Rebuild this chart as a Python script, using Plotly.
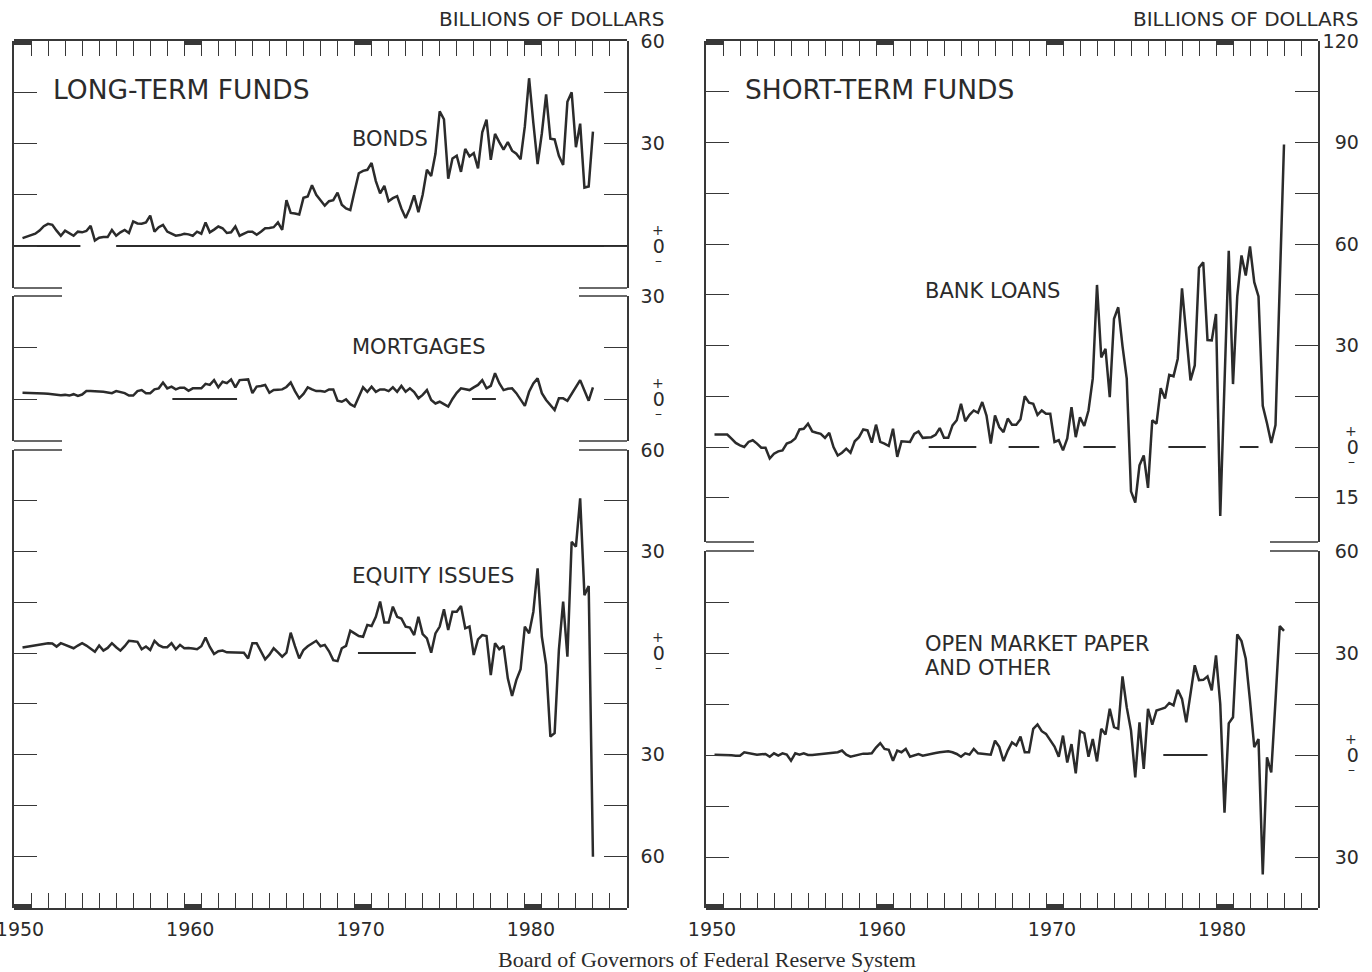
import plotly.graph_objects as go

# ---------------------------------------------------------------
# Funds raised by nonfinancial corporations, quarterly, 1950 Q3 - 1984 Q1
# (billions of dollars, seasonally adjusted annual rates)
# ---------------------------------------------------------------
START_YEAR = 1950.5
STEP = 0.25

bonds = [
    2.3, 2.8,
    3.2, 3.6, 4.5, 5.8,
    6.5, 6.2, 4.5, 3.0,
    4.5, 3.8, 3.0, 4.2,
    4.0, 4.4, 5.9, 1.6,
    2.4, 2.6, 2.6, 4.7,
    3.0, 4.0, 4.7, 3.8,
    7.2, 6.6, 6.5, 6.9,
    8.9, 4.2, 5.5, 6.2,
    4.2, 3.6, 3.0, 3.2,
    3.6, 3.4, 3.0, 4.2,
    3.6, 6.9, 4.0, 4.8,
    5.7, 5.2, 3.8, 4.0,
    5.7, 3.0, 3.6, 4.2,
    4.2, 3.3, 4.2, 5.2,
    5.3, 5.5, 6.9, 4.7,
    13.4, 9.7, 9.5, 9.2,
    14.1, 14.5, 17.8, 15.0,
    13.4, 11.8, 13.1, 13.4,
    15.6, 12.1, 11.0, 10.5,
    16.0, 21.3, 22.0, 22.3,
    24.3, 19.0, 15.4, 17.6,
    13.1, 14.0, 14.6, 11.0,
    8.2, 11.0, 14.8, 9.9,
    15.0, 22.3, 20.5, 27.0,
    39.4, 37.1, 19.7, 25.6,
    26.4, 21.7, 28.4, 26.2,
    27.2, 22.7, 33.3, 37.0,
    25.2, 32.8, 30.4, 28.2,
    30.4, 27.9, 27.0, 25.4,
    35.0, 49.1, 36.0, 24.0,
    33.0, 44.4, 31.4, 31.2,
    26.4, 23.7, 42.2, 45.0,
    28.9, 35.8, 17.1, 17.4,
    33.5,
]

mortgages = [
    1.8, 1.8,
    1.8, 1.7, 1.7, 1.6,
    1.5, 1.3, 1.2, 1.1,
    1.2, 1.0, 1.4, 0.9,
    1.3, 2.3, 2.3, 2.3,
    2.2, 2.1, 1.9, 1.7,
    2.3, 2.0, 1.7, 1.0,
    1.0, 2.3, 2.6, 1.7,
    1.7, 2.8, 3.1, 4.8,
    3.1, 3.6, 2.8, 3.3,
    3.3, 2.4, 3.1, 3.1,
    3.1, 4.4, 4.1, 5.5,
    3.4, 5.0, 4.6, 5.7,
    3.4, 5.5, 5.7, 5.7,
    1.7, 3.6, 3.8, 4.1,
    1.8, 2.6, 2.7, 2.8,
    3.5, 4.8, 2.3, 0.2,
    1.5, 3.4, 2.8, 2.3,
    2.3, 2.1, 2.8, 2.8,
    -0.5, -0.8, -0.1, -1.5,
    -2.2, 0.7, 3.4, 2.1,
    3.6, 2.1, 2.8, 2.8,
    2.3, 3.4, 2.1, 3.8,
    2.1, 3.1, 2.0, 0.2,
    1.2, 2.6, -0.3, -1.3,
    -0.8, -1.5, -2.2, 0.0,
    1.8, 3.1, 2.9, 2.6,
    3.4, 4.1, 5.5, 3.1,
    3.8, 7.5, 4.6, 2.6,
    3.0, 3.1, 1.7, 0.0,
    -2.0, 2.1, 4.5, 6.0,
    1.7, -0.3, -1.8, -3.2,
    0.2, 0.2, -0.5, 1.5,
    3.6, 5.5, 2.5, -0.5,
    3.4,
]

equity = [
    1.6, 1.8,
    2.2, 2.4, 2.6, 2.7,
    2.9, 2.8, 1.9, 2.9,
    2.4, 2.0, 1.4, 2.2,
    2.9, 2.2, 1.4, 0.4,
    2.2, 0.7, 1.5, 2.9,
    1.7, 0.7, 2.0, 3.6,
    3.5, 3.3, 1.1, 1.9,
    0.9, 3.6, 2.3, 1.7,
    1.7, 2.9, 1.1, 2.4,
    1.4, 1.5, 1.3, 1.1,
    2.0, 4.6, 1.8, -0.3,
    0.5, 0.7, 0.2, 0.2,
    0.2, 0.1, 0.1, -1.6,
    2.9, 2.9, 0.5, -1.9,
    -0.5, 1.4, 0.2, -1.1,
    0.1, 6.0, 2.0, -1.6,
    0.9, 2.0, 2.8, 3.6,
    2.0, 2.4, 0.5, -2.1,
    -2.4, 1.4, 2.1, 6.6,
    5.8, 5.0, 4.8, 8.3,
    8.0, 10.7, 15.2, 9.0,
    9.0, 13.7, 10.7, 10.2,
    7.8, 7.5, 5.3, 10.7,
    5.6, 4.3, 0.1, 5.8,
    7.8, 12.9, 6.8, 12.2,
    12.2, 13.9, 7.3, 7.8,
    -0.6, 4.0, 5.3, 5.0,
    -6.5, 2.9, 1.1, 2.1,
    -7.5, -12.7, -8.0, -4.8,
    7.8, 5.8, 12.2, 25.0,
    4.8, -3.5, -24.7, -23.7,
    0.9, 15.2, -1.1, 32.9,
    31.4, 45.7, 17.1, 19.8,
    -60.2,
]

bank_loans = [
    3.7, 3.7,
    3.7, 3.7, 2.5, 1.2,
    0.5, 0.0, 1.5, 2.0,
    1.0, -0.2, -0.2, -3.4,
    -2.0, -1.3, -1.0, 1.0,
    1.5, 2.5, 5.2, 5.4,
    6.9, 4.6, 4.2, 3.9,
    2.7, 4.2, 0.0, -2.5,
    -1.7, -0.5, -1.7, 1.7,
    2.9, 5.2, 4.9, 1.3,
    6.6, 1.5, 1.0, 0.3,
    5.4, -2.9, 1.7, 1.5,
    1.5, 3.9, 4.6, 2.7,
    2.7, 2.9, 3.6, 5.6,
    2.7, 2.7, 6.4, 7.9,
    12.8, 7.6, 9.5, 10.8,
    10.1, 13.3, 9.3, 1.0,
    9.3, 5.9, 4.4, 8.4,
    6.6, 6.6, 8.2, 15.0,
    13.1, 12.8, 9.5, 10.8,
    9.8, 9.8, 1.5, 2.0,
    -1.0, 2.5, 11.8, 2.9,
    8.8, 6.2, 10.8, 20.2,
    47.9, 26.5, 29.0, 14.7,
    37.9, 41.3, 29.8, 20.2,
    -13.1, -16.4, -5.4, -2.5,
    -12.1, 7.9, 6.9, 17.4,
    14.3, 21.3, 20.9, 26.1,
    46.9, 32.9, 19.7, 24.1,
    53.0, 54.6, 31.6, 31.5,
    39.3, -20.4, 19.0, 58.0,
    18.6, 44.5, 56.6, 50.7,
    59.3, 48.7, 44.5, 12.2,
    7.0, 1.2, 6.5, 48.0,
    89.4,
]

open_market = [
    0.1, 0.1,
    0.0, 0.0, -0.1, -0.2,
    -0.2, 0.8, 0.5, 0.3,
    0.1, 0.2, 0.3, -0.5,
    0.5, -0.2, 0.5, 0.1,
    -1.7, 0.5, 0.1, 0.5,
    0.0, 0.0, 0.1, 0.3,
    0.5, 0.6, 0.7, 0.8,
    1.3, 0.1, -0.5, -0.2,
    0.3, 0.4, 0.4, 0.5,
    2.2, 3.5, 1.8, 1.5,
    -1.7, 1.3, 0.8, 1.8,
    -0.5, -0.1, 0.3, -0.2,
    0.1, 0.5, 0.6, 0.8,
    0.9, 1.1, 0.8, 0.3,
    -0.5, 0.5, 0.1, 1.8,
    0.5, 0.4, 0.3, 0.1,
    4.2, 2.4, -1.8, 1.3,
    3.7, 2.8, 5.4, 0.8,
    0.8, 7.7, 9.0, 7.0,
    6.2, 4.2, 2.5, -0.5,
    5.7, -2.2, 3.2, -5.4,
    7.0, 6.4, -0.5, 4.7,
    -1.9, 7.7, 6.0, 13.6,
    8.2, 7.7, 23.1, 14.0,
    7.2, -6.6, 9.6, -4.1,
    13.6, 8.9, 13.1, 13.5,
    13.9, 15.3, 14.6, 19.2,
    16.5, 9.6, 18.0, 26.4,
    22.0, 22.1, 23.1, 19.0,
    29.3, 15.0, -17.0, 9.3,
    11.1, 35.5, 33.5, 28.3,
    16.0, 2.3, 4.7, -35.1,
    -0.7, -5.1, 16.0, 37.9,
    36.5,
]

# stretches of the zero reference line that are drawn in each panel (years)
zero_bonds = [(1950.0, 1953.9), (1956.0, 1986.0)]
zero_mortgages = [(1959.3, 1963.1), (1976.9, 1978.3)]
zero_equity = [(1970.2, 1973.6)]
zero_bank = [(1963.1, 1965.9), (1967.8, 1969.6), (1972.2, 1974.1),
             (1977.2, 1979.4), (1981.4, 1982.5)]
zero_open = [(1976.9, 1979.5)]

# axis ticks and labels
year_ticks = list(range(1950, 1987))
decade_labels = {1950: "1950", 1960: "1960", 1970: "1970", 1980: "1980"}
decades = [1950, 1960, 1970, 1980]

FS = "\u2007"  # figure space keeps the scale numbers right-aligned
bonds_ticks = [0, 15, 30, 45, 60]
bonds_text = [FS + "0", "", "30", "", "60"]
mort_ticks = [0, 15, 30]
mort_text = [FS + "0", "", "30"]
equity_ticks = [-60, -45, -30, -15, 0, 15, 30, 45, 60]
equity_text = ["60", "", "30", "", FS + "0", "", "30", "", "60"]
bank_ticks = [-15, 0, 15, 30, 45, 60, 75, 90, 105, 120]
bank_text = [FS + "15", FS + FS + "0", "", FS + "30", "", FS + "60", "", FS + "90", "", "120"]
open_ticks = [-30, -15, 0, 15, 30, 45, 60]
open_text = [FS + "30", "", FS + FS + "0", "", FS + "30", "", FS + "60"]

# ---------------------------------------------------------------
W, H = 1372, 972
INK = "#2b2b2b"
FRAME = "#383838"
FONT = "DejaVu Sans"


def fx(p):
    return p / W


def fy(p):
    return 1 - p / H


# panel geometry in page pixels
L_X0, L_X1 = 14, 627
R_X0, R_X1 = 706, 1318
TOP, BOTTOM = 41, 908

fig = go.Figure()


def series(vals, xa, ya):
    t = [START_YEAR + STEP * i for i in range(len(vals))]
    fig.add_trace(go.Scatter(x=t, y=vals, xaxis=xa, yaxis=ya, mode="lines",
                             line=dict(color=INK, width=2.5),
                             hoverinfo="skip", showlegend=False))


def zero_line(spans, xa, ya):
    xs, ys = [], []
    for a, b in spans:
        xs += [a, b, None]
        ys += [0, 0, None]
    fig.add_trace(go.Scatter(x=xs, y=ys, xaxis=xa, yaxis=ya, mode="lines",
                             line=dict(color=INK, width=2),
                             hoverinfo="skip", showlegend=False))


# empty holders for the full-height frames that carry the year scales
for xa, ya in (("x", "y6"), ("x2", "y7")):
    fig.add_trace(go.Scatter(x=[1950], y=[0.5], xaxis=xa, yaxis=ya, mode="lines",
                             line=dict(width=0), hoverinfo="skip",
                             showlegend=False))

zero_line(zero_bonds, "x", "y")
zero_line(zero_mortgages, "x", "y2")
zero_line(zero_equity, "x", "y3")
zero_line(zero_bank, "x2", "y4")
zero_line(zero_open, "x2", "y5")

series(bonds, "x", "y")
series(mortgages, "x", "y2")
series(equity, "x", "y3")
series(bank_loans, "x2", "y4")
series(open_market, "x2", "y5")

tickfont = dict(family=FONT, size=19, color="#2b2b2b")


def xaxis(x0, x1, anchor):
    return dict(domain=[fx(x0), fx(x1)], range=[1950, 1986], anchor=anchor,
                tickmode="array", tickvals=year_ticks,
                ticktext=[decade_labels.get(y, "") for y in year_ticks],
                ticks="inside", ticklen=15, tickwidth=1.3, tickcolor=FRAME,
                mirror="ticks", showline=True, linecolor=FRAME, linewidth=1.6,
                showgrid=False, zeroline=False, tickfont=tickfont,
                ticklabelshift=6, ticklabelstandoff=3,
                ticklabeloverflow="allow", automargin=False, fixedrange=True)


def frame_axis(x_anchor, y0, y1):
    return dict(domain=[fy(y1), fy(y0)], anchor=x_anchor, range=[0, 1],
                showline=False, showticklabels=False, ticks="",
                showgrid=False, zeroline=False, automargin=False,
                fixedrange=True)


def yaxis(y0, y1, rng, tv, tt, anchor, standoff):
    return dict(domain=[fy(y1), fy(y0)], range=rng, anchor=anchor, side="right",
                tickmode="array", tickvals=tv, ticktext=tt,
                ticks="inside", ticklen=23, tickwidth=1.4, tickcolor=FRAME,
                mirror="ticks", showline=True, linecolor=FRAME, linewidth=1.6,
                showgrid=False, zeroline=False, tickfont=tickfont,
                ticklabelstandoff=standoff, ticklabeloverflow="allow",
                automargin=False, fixedrange=True)


def rng(top_px, zero_px, bottom_px, top_val):
    k = (zero_px - top_px) / top_val
    return [-(bottom_px - zero_px) / k, top_val]


fig.update_layout(
    width=W, height=H, autosize=False,
    margin=dict(l=0, r=0, t=0, b=0, autoexpand=False),
    paper_bgcolor="white", plot_bgcolor="rgba(0,0,0,0)",
    showlegend=False,
    font=dict(family=FONT, color="#2b2b2b"),
    xaxis=xaxis(L_X0, L_X1, "y6"),
    xaxis2=xaxis(R_X0, R_X1, "y7"),
    yaxis6=frame_axis("x", TOP, BOTTOM),
    yaxis7=frame_axis("x2", TOP, BOTTOM),
    yaxis=yaxis(TOP, 288, rng(TOP, 246, 288, 60), bonds_ticks, bonds_text, "x", 8),
    yaxis2=yaxis(296, 441, rng(296, 399, 441, 30), mort_ticks, mort_text, "x", 8),
    yaxis3=yaxis(450, BOTTOM, rng(450, 653, BOTTOM, 60), equity_ticks, equity_text, "x", 8),
    yaxis4=yaxis(TOP, 542, rng(TOP, 447, 542, 120), bank_ticks, bank_text, "x2", -1),
    yaxis5=yaxis(551, BOTTOM, rng(551, 755, BOTTOM, 60), open_ticks, open_text, "x2", -1),
)

shapes = []
# heavy decade marks along the top and bottom edges of both panels
for xa in ("x", "x2"):
    for d in decades:
        for y0, y1 in ((TOP, TOP + 4), (BOTTOM - 4, BOTTOM)):
            shapes.append(dict(type="rect", xref=xa, yref="paper", x0=d, x1=d + 1,
                               y0=fy(y1), y1=fy(y0), line=dict(width=0),
                               fillcolor=FRAME))

# broken-scale stubs where the panels are split
stub = 48
for (x0, x1), ys in (((L_X0, L_X1), (288, 296, 441, 450)),
                     ((R_X0, R_X1), (542, 551))):
    for yy in ys:
        for a, b in ((x0, x0 + stub), (x1 - stub, x1)):
            shapes.append(dict(type="line", xref="paper", yref="paper",
                               x0=fx(a), x1=fx(b), y0=fy(yy), y1=fy(yy),
                               line=dict(color=FRAME, width=1.6)))
fig.update_layout(shapes=shapes)

ann = []


def text(x, y, s, size, anchor="left", family=FONT):
    ann.append(dict(xref="paper", yref="paper", x=fx(x), y=fy(y), text=s,
                    showarrow=False, xanchor=anchor, yanchor="middle",
                    font=dict(family=family, size=size, color="#2b2b2b")))


text(666, 19, "BILLIONS OF DOLLARS", 20, "right")
text(1360, 19, "BILLIONS OF DOLLARS", 20, "right")
text(51, 89, "LONG-TERM FUNDS", 26.5)
text(743, 89, "SHORT-TERM FUNDS", 26.5)
text(350, 139, "BONDS", 21)
text(350, 347, "MORTGAGES", 21)
text(350, 575, "EQUITY ISSUES", 21.5)
text(923, 291, "BANK LOANS", 21)
text(923, 644, "OPEN MARKET PAPER", 21)
text(923, 668, "AND OTHER", 21)
text(707, 959, "Board of Governors of Federal Reserve System", 22, "center",
     "Liberation Serif")

# plus / minus signs around each zero on the scales
for ya, xc in (("y", 658), ("y2", 658), ("y3", 658), ("y4", 1351), ("y5", 1351)):
    for s, shift in (("+", 16), ("\u2013", -14)):
        ann.append(dict(xref="paper", yref=ya, x=fx(xc), y=0, yshift=shift,
                        text=s, showarrow=False, xanchor="center",
                        yanchor="middle",
                        font=dict(family=FONT, size=14, color="#2b2b2b")))

fig.update_layout(annotations=ann)

fig.write_html("out.html")
